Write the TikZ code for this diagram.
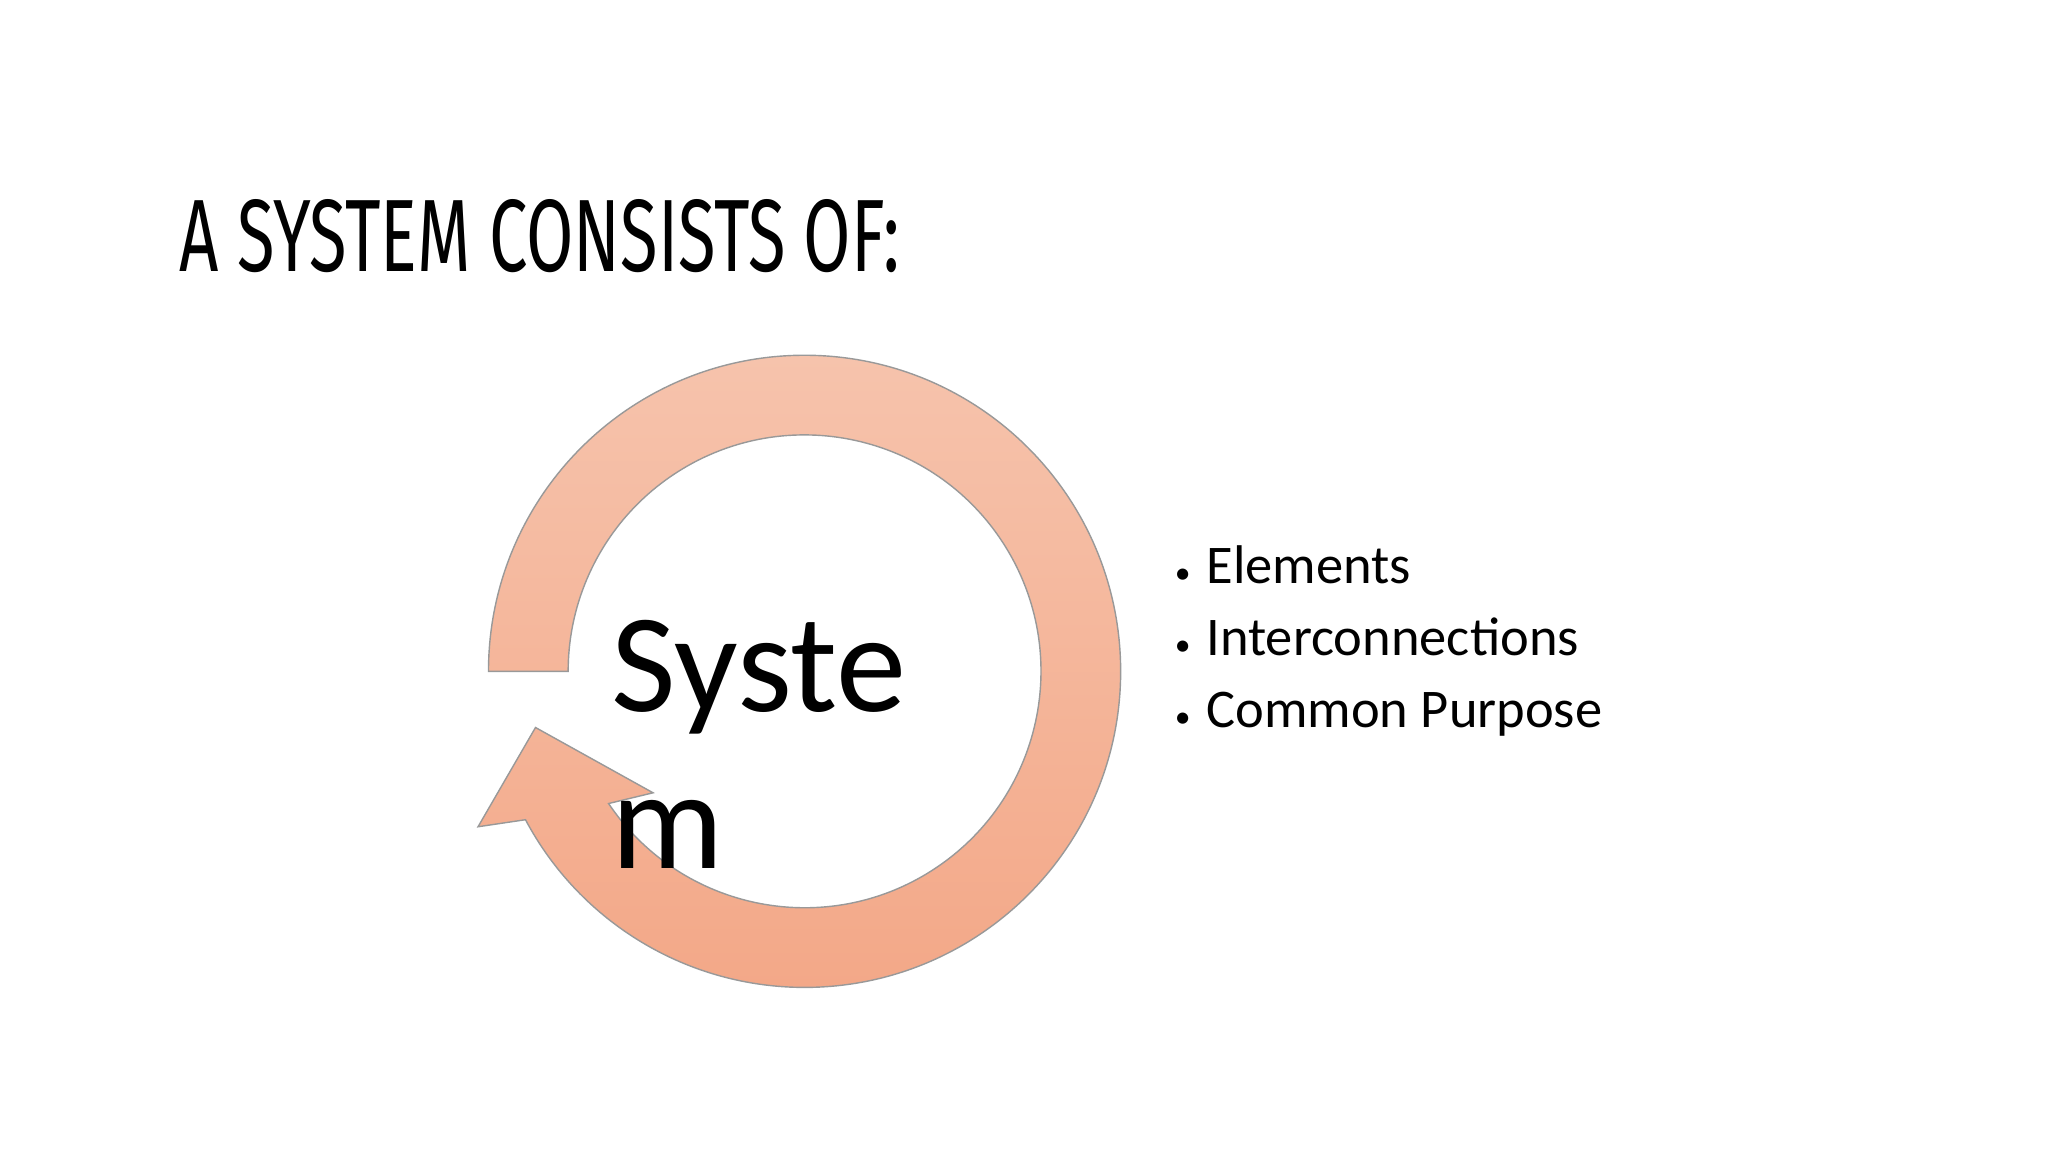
\documentclass[tikz,border=0pt]{standalone}
\usepackage{fontspec}
\usetikzlibrary{calc}
\setmainfont{Carlito}
\newfontfamily\titlefont{Fira Sans}
\definecolor{ringtop}{HTML}{F6C3AC}
\definecolor{ringbot}{HTML}{F3A888}
\begin{document}
\begin{tikzpicture}[x=0.01306cm,y=0.01306cm,
  bul/.style={anchor=base west,font=\fontsize{15.5}{18}\selectfont,inner sep=0pt}]
\useasboundingbox (0,0) rectangle (1568,882);
\fill[white] (0,0) rectangle (1568,882);
\node[anchor=base west,inner sep=0pt] (title) at (137,674)
  {\resizebox{205pt}{20.5pt}{\titlefont A SYSTEM CONSISTS OF:}};
\coordinate (c) at (616,368);
\shade[top color=ringtop, bottom color=ringbot,
  draw=gray!80, line width=0.4pt]
  (374,368) arc[start angle=180,end angle=-152,radius=242]
  -- (366,249) -- (410,325) -- (500,275)
  -- ($(c)+(-146:181)$) arc[start angle=-146,end angle=180,radius=181] -- cycle;
\node[anchor=base west,inner sep=0pt,font=\fontsize{40}{44.6}\selectfont] (sys) at (468,337) {Syste};
\node[anchor=base west,inner sep=0pt,font=\fontsize{40}{44.6}\selectfont] (m) at (468,217) {m};
\node[bul] (b1) at (899,435) {{\small•}\hspace{4.5pt}Elements};
\node[bul] (b2) at (899,380) {{\small•}\hspace{4.5pt}Interconnections};
\node[bul] (b3) at (899,325) {{\small•}\hspace{4.5pt}Common Purpose};
\end{tikzpicture}
\end{document}
